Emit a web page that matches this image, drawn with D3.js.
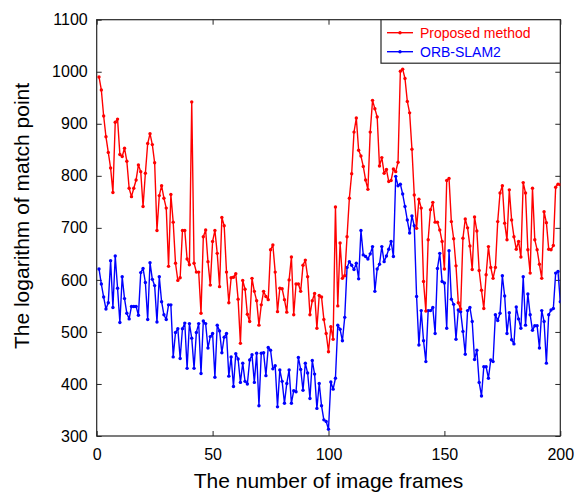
<!DOCTYPE html>
<html>
<head>
<meta charset="utf-8">
<script src="https://cdn.jsdelivr.net/npm/d3@7/dist/d3.min.js"></script>
<style>
html,body{margin:0;padding:0;background:#fff;}
svg{display:block;font-family:"Liberation Sans",Arial,sans-serif;}
</style>
</head>
<body>
<svg id="chart" width="579" height="492"></svg>
<script>
const seriesNames = ["Proposed method", "ORB-SLAM2"];
const seriesColors = ["#ff0000", "#0000ff"];
const xTicks = [0, 50, 100, 150, 200];
const yTicks = [300, 400, 500, 600, 700, 800, 900, 1000, 1100];
const xLabel = "The number of image frames";
const yLabel = "The logarithm of match point";

const proposed = [
990,965,915,875,845,815,768,903,909,841,837,853,828,776,760,776,792,821,808,741,
805,862,881,860,825,695,762,781,757,738,626,764,711,632,599,604,695,695,640,629,
942,632,615,615,536,683,696,635,590,674,695,651,587,720,704,615,556,604,605,612,
563,478,599,582,534,520,603,578,560,513,552,578,568,562,658,667,615,539,584,583,
562,538,600,644,533,592,592,578,628,638,606,533,560,574,507,570,567,524,497,462,
510,486,740,550,671,603,608,683,757,804,884,911,849,838,818,792,774,884,945,929,
913,819,835,805,812,789,791,813,808,826,1001,1005,987,943,921,851,763,699,755,738,
597,540,677,735,749,711,711,696,674,621,791,795,712,679,627,556,544,680,717,700,
665,620,721,694,618,580,545,610,664,624,603,624,712,767,781,709,677,773,715,683,
659,674,644,787,767,658,613,776,677,658,630,603,731,710,659,658,666,778,784,783
];
const orbslam = [
621,592,567,544,556,637,547,646,584,518,606,564,536,525,549,549,549,532,614,622,
595,524,633,601,589,519,606,558,533,524,552,552,452,499,506,449,506,517,430,516,
488,430,499,516,420,521,516,469,491,497,413,513,502,460,490,497,415,452,395,458,
448,403,440,405,400,446,456,403,459,358,459,460,416,470,465,429,435,356,427,405,
363,401,427,363,387,385,451,428,388,440,421,372,445,419,353,401,358,331,328,313,
404,390,411,513,505,483,528,624,635,628,620,632,602,695,648,645,640,650,664,578,
621,630,664,635,646,659,674,645,799,781,784,765,741,715,690,723,704,568,475,541,
483,443,541,541,547,497,622,651,597,594,507,656,563,553,486,542,539,501,457,541,
547,520,447,465,403,377,433,433,411,446,443,533,522,536,608,569,497,537,485,477,
548,525,507,606,513,573,533,503,512,512,469,541,520,440,533,542,545,613,616,558
];
const frames = proposed.map((d, i) => i + 1);

const svg = d3.select("#chart");
const L = 96.7, R = 560.3, T = 19.7, B = 436;
const x = d3.scaleLinear().domain([0, 200]).range([L, R]);
const y = d3.scaleLinear().domain([300, 1100]).range([B, T]);

const axisColor = "#262626";
svg.append("rect").attr("x", L).attr("y", T).attr("width", R - L).attr("height", B - T)
  .attr("fill", "none").attr("stroke", axisColor).attr("stroke-width", 1.2);

const fontSize = 16;
const fmt = d3.format("d");
const gx = svg.append("g").attr("transform", `translate(0,${B})`)
  .call(d3.axisBottom(x).tickValues(xTicks).tickFormat(fmt).tickSizeInner(-5).tickSizeOuter(0).tickPadding(13));
const gxt = svg.append("g").attr("transform", `translate(0,${T})`)
  .call(d3.axisTop(x).tickValues(xTicks).tickSizeInner(-5).tickSizeOuter(0).tickFormat(""));
const gy = svg.append("g").attr("transform", `translate(${L},0)`)
  .call(d3.axisLeft(y).tickValues(yTicks).tickFormat(fmt).tickSizeInner(-5).tickSizeOuter(0).tickPadding(9));
const gyr = svg.append("g").attr("transform", `translate(${R},0)`)
  .call(d3.axisRight(y).tickValues(yTicks).tickSizeInner(-5).tickSizeOuter(0).tickFormat(""));

[gx, gxt, gy, gyr].forEach(g => {
  g.select(".domain").remove();
  g.selectAll(".tick line").attr("stroke", axisColor).attr("stroke-width", 1);
  g.selectAll("text").attr("fill", "#000").attr("font-size", fontSize)
    .attr("font-family", "Liberation Sans, Arial, sans-serif");
});

svg.append("text").attr("x", (L + R) / 2).attr("y", 488).attr("text-anchor", "middle")
  .attr("font-size", 21).attr("fill", "#000").text(xLabel);
svg.append("text").attr("transform", `translate(29,216) rotate(-90)`)
  .attr("text-anchor", "middle").attr("font-size", 21).attr("fill", "#000").text(yLabel);

svg.append("clipPath").attr("id", "clip").append("rect")
  .attr("x", L).attr("y", T).attr("width", R - L).attr("height", B - T);
const line = d3.line().x((d, i) => x(frames[i])).y(d => y(d));
const plot = svg.append("g").attr("clip-path", "url(#clip)");
[orbslam, proposed].forEach((data, k) => {
  const color = k === 0 ? seriesColors[1] : seriesColors[0];
  plot.append("path").datum(data).attr("d", line).attr("fill", "none")
    .attr("stroke", color).attr("stroke-width", 1.4).attr("stroke-linejoin", "round");
  plot.selectAll(null).data(data).enter().append("circle")
    .attr("cx", (d, i) => x(frames[i])).attr("cy", d => y(d)).attr("r", 1.7).attr("fill", color);
});

const lg = svg.append("g");
const lx0 = 381, ly0 = T, lw = R - 381, lh = 43.5;
lg.append("rect").attr("x", lx0).attr("y", ly0).attr("width", lw).attr("height", lh)
  .attr("fill", "#fff").attr("stroke", axisColor).attr("stroke-width", 1.2);
seriesNames.forEach((name, i) => {
  const yy = ly0 + 13 + i * 19;
  lg.append("line").attr("x1", 387).attr("x2", 413).attr("y1", yy).attr("y2", yy)
    .attr("stroke", seriesColors[i]).attr("stroke-width", 1.4);
  lg.append("circle").attr("cx", 400).attr("cy", yy).attr("r", 1.7).attr("fill", seriesColors[i]);
  lg.append("text").attr("x", 420).attr("y", yy + 5).attr("font-size", 14)
    .attr("fill", seriesColors[i]).text(name);
});
</script>
</body>
</html>
